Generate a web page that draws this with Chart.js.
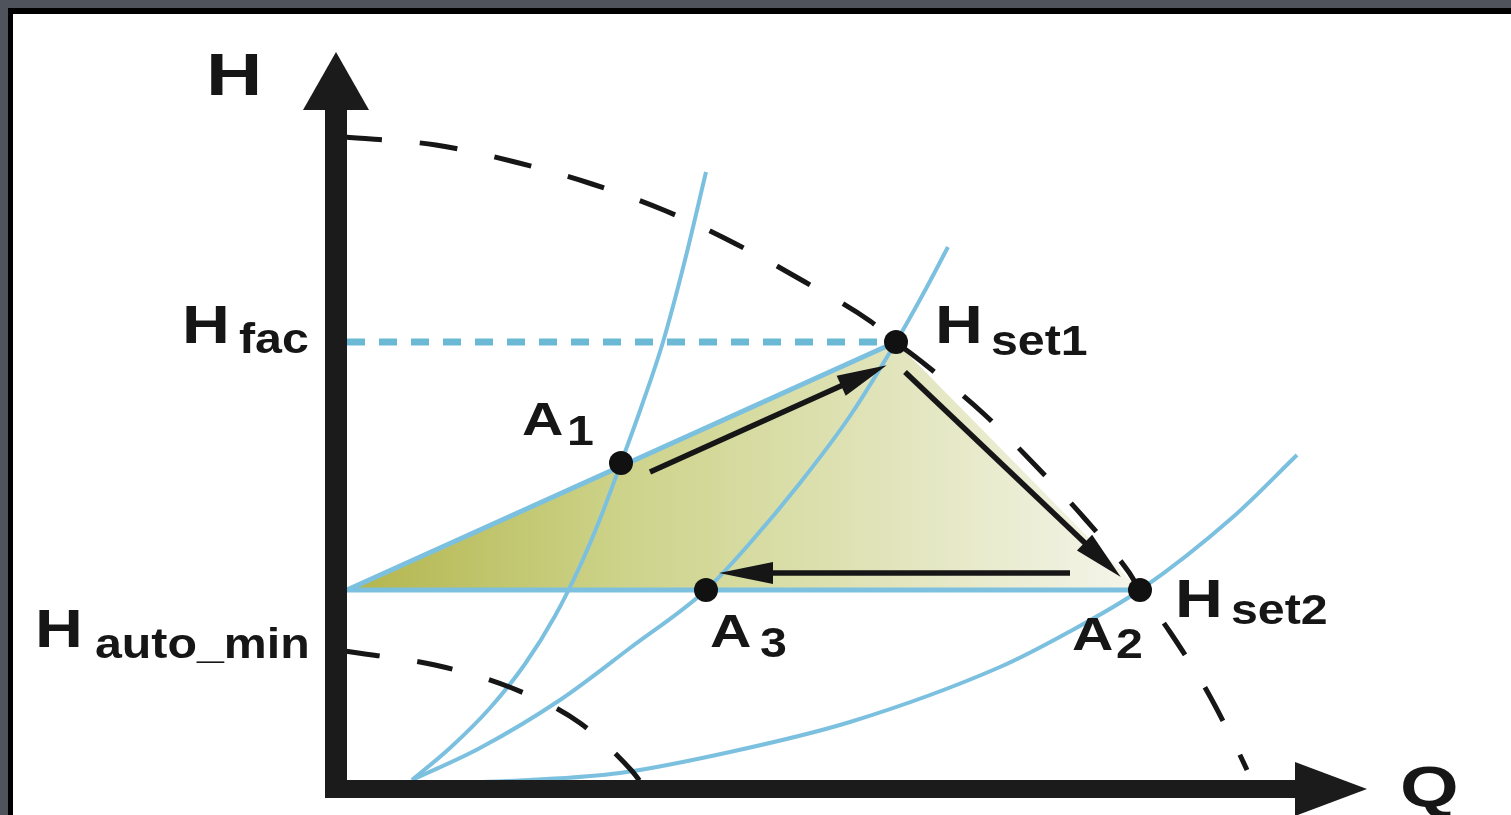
<!DOCTYPE html>
<html>
<head>
<meta charset="utf-8">
<script src="https://cdn.jsdelivr.net/npm/chart.js@4"></script>
<style>
  body { margin: 0; background: #4e535c; }
  #frame { position: absolute; left: 8px; top: 8px; width: 1503px; height: 807px; background: #fff;
           border-top: 6px solid #000; border-left: 5px solid #000; box-sizing: border-box; }
  #wrap { position: absolute; left: 0; top: 0; width: 1511px; height: 815px; }
</style>
</head>
<body>
<div id="frame"></div>
<div id="wrap"><canvas id="chart"></canvas></div>
<script>
// pump curve at full speed (dashed, top)
const pumpMaxQ = [0.08, 1.00, 1.79, 2.56, 3.30, 4.00, 4.69, 5.34, 5.60, 5.91, 6.49, 6.99, 7.50, 7.92, 8.04, 8.34, 8.71, 9.03, 9.11];
const pumpMaxH = [6.52, 6.44, 6.27, 6.05, 5.78, 5.45, 5.07, 4.68, 4.47, 4.23, 3.74, 3.24, 2.69, 2.18, 1.99, 1.57, 0.98, 0.36, 0.19];
// pump curve at minimum speed (dashed, bottom)
const pumpMinQ = [0.08, 0.99, 1.76, 2.44, 2.96, 3.06];
const pumpMinH = [1.38, 1.24, 1.01, 0.66, 0.18, 0.05];
// system curves (light blue)
const sysAQ = [0.76, 1.14, 1.54, 1.89, 2.19, 2.44, 2.64, 2.85, 3.06, 3.27, 3.49, 3.70];
const sysAH = [0.09, 0.41, 0.81, 1.25, 1.73, 2.23, 2.70, 3.26, 3.84, 4.47, 5.29, 6.17];
const sysBQ = [0.76, 1.44, 2.24, 2.94, 3.70, 4.14, 4.64, 5.14, 5.60, 5.86, 6.12];
const sysBH = [0.09, 0.41, 0.89, 1.41, 1.99, 2.46, 3.06, 3.73, 4.47, 4.93, 5.42];
const sysCQ = [0.79, 1.94, 2.84, 3.94, 5.14, 6.64, 7.31, 8.04, 8.97, 9.61];
const sysCH = [0.05, 0.09, 0.16, 0.37, 0.67, 1.22, 1.56, 1.99, 2.72, 3.34];
// levels
const hFac = 4.47;
const hAutoMin = 1.99;
// control band (triangle)
const bandQ = [0.11, 5.60, 8.04];
const bandH = [hAutoMin, hFac, hAutoMin];
// operating points A1, Hset1, A3, Hset2/A2
const opQ = [2.85, 5.60, 3.70, 8.04];
const opH = [3.26, hFac, hAutoMin, hAutoMin];
// arrows between the points (start, end of shaft)
const arrow1Q = [3.14, 5.07], arrow1H = [3.17, 4.04];
const arrow2Q = [5.69, 7.50], arrow2H = [4.17, 2.45];
const arrow3Q = [7.34, 4.35], arrow3H = [2.16, 2.16];
// axes
const axisYQ = [0, 0], axisYH = [-0.09, 6.81];
const axisXQ = [-0.11, 9.61], axisXH = [0, 0];

const pts = (qs, hs) => qs.map((q, i) => ({ x: q, y: hs[i] }));

// text labels: main letter + subscript, anchored in Q/H units (left, baseline)
const labels = [
  { main: 'H', at: [-1.30, 6.94], size: 60, sx: 1.3 },
  { main: 'Q', at: [10.64, -0.18], size: 58, sx: 1.3 },
  { main: 'H', at: [-1.54, 4.46], sub: 'fac', subAt: [-0.97, 4.36] },
  { main: 'H', at: [5.99, 4.46], sub: 'set1', subAt: [6.55, 4.34] },
  { main: 'H', at: [8.39, 1.72], sub: 'set2', subAt: [8.95, 1.65] },
  { main: 'H', at: [-3.01, 1.42], sub: 'auto_min', subAt: [-2.41, 1.31] },
  { main: 'A', at: [1.86, 3.54], sub: '1', subAt: [2.31, 3.44], size: 47, sx: 1.22 },
  { main: 'A', at: [3.74, 1.42], sub: '3', subAt: [4.24, 1.32], size: 47, sx: 1.22 },
  { main: 'A', at: [7.36, 1.39], sub: '2', subAt: [7.80, 1.31], size: 47, sx: 1.22 }
];

const BLUE = '#7cc0e0';
const INK = '#161616';

const decor = {
  id: 'decor',
  afterDatasetsDraw(chart) {
    const c = chart.ctx;
    const xs = chart.scales.x, ys = chart.scales.y;
    chart.data.datasets.forEach((ds, i) => {
      if (!ds.arrowHead) return;
      const el = chart.getDatasetMeta(i).data;
      const a = el[el.length - 2], b = el[el.length - 1];
      const dx = b.x - a.x, dy = b.y - a.y, L = Math.hypot(dx, dy);
      const ux = dx / L, uy = dy / L;
      const { len, half } = ds.arrowHead;
      const bx = b.x - ux * 2, by = b.y - uy * 2;
      c.save();
      c.beginPath();
      c.moveTo(b.x + ux * len, b.y + uy * len);
      c.lineTo(bx - uy * half, by + ux * half);
      c.lineTo(bx + uy * half, by - ux * half);
      c.closePath();
      c.fillStyle = ds.borderColor;
      c.fill();
      c.restore();
    });
    const put = (txt, q, h, size, sx) => {
      c.save();
      c.translate(xs.getPixelForValue(q), ys.getPixelForValue(h));
      c.scale(sx, 1);
      c.font = 'bold ' + size + 'px "Liberation Sans", Arial, sans-serif';
      c.fillStyle = INK;
      c.textBaseline = 'alphabetic';
      c.fillText(txt, 0, 0);
      c.restore();
    };
    labels.forEach(l => {
      put(l.main, l.at[0], l.at[1], l.size || 53, l.sx || 1.25);
      if (l.sub) put(l.sub, l.subAt[0], l.subAt[1], 42, 1.15);
    });
  }
};

const curve = (qs, hs, color, width, dash, order) => ({
  data: pts(qs, hs), borderColor: color, borderWidth: width, borderDash: dash || [],
  cubicInterpolationMode: 'monotone', pointRadius: 0, fill: false, order
});
const straight = (qs, hs, color, width, dash, order) => ({
  data: pts(qs, hs), borderColor: color, borderWidth: width, borderDash: dash || [],
  tension: 0, pointRadius: 0, fill: false, borderCapStyle: 'butt', order
});

new Chart(document.getElementById('chart'), {
  type: 'line',
  data: {
    datasets: [
      {
        data: pts(bandQ, bandH), borderWidth: 0, pointRadius: 0, tension: 0, order: 9,
        fill: { value: hAutoMin },
        backgroundColor: (ctx) => {
          const ch = ctx.chart;
          if (!ch.chartArea) return '#d5d896';
          const x0 = ch.scales.x.getPixelForValue(bandQ[0]);
          const x1 = ch.scales.x.getPixelForValue(bandQ[2]);
          const g = ch.ctx.createLinearGradient(x0, 0, x1, 0);
          g.addColorStop(0, '#b3b54c');
          g.addColorStop(0.35, '#cdd38a');
          g.addColorStop(0.7, '#e2e5bd');
          g.addColorStop(1, '#f5f5eb');
          return g;
        }
      },
      straight([bandQ[2], bandQ[0], bandQ[1]], [bandH[2], bandH[0], bandH[1]], BLUE, 5, null, 8),
      straight([0.11, 5.60], [hFac, hFac], '#6cb9d6', 7, [18, 14], 8),
      curve(sysAQ, sysAH, BLUE, 4, null, 7),
      curve(sysBQ, sysBH, BLUE, 4, null, 7),
      curve(sysCQ, sysCH, BLUE, 4, null, 7),
      curve(pumpMaxQ, pumpMaxH, INK, 5, [38, 38], 6),
      curve(pumpMinQ, pumpMinH, INK, 5, [36, 38], 6),
      Object.assign(straight(arrow1Q, arrow1H, INK, 5.5, null, 5), { arrowHead: { len: 48, half: 11 } }),
      Object.assign(straight(arrow2Q, arrow2H, INK, 5.5, null, 5), { arrowHead: { len: 48, half: 11 } }),
      Object.assign(straight(arrow3Q, arrow3H, INK, 5.5, null, 5), { arrowHead: { len: 52, half: 11 } }),
      Object.assign(straight(axisYQ, axisYH, '#1b1b1b', 22, null, 2), { arrowHead: { len: 56, half: 33 } }),
      Object.assign(straight(axisXQ, axisXH, '#1b1b1b', 18, null, 2), { arrowHead: { len: 70, half: 27 } }),
      {
        data: pts(opQ, opH), showLine: false, pointRadius: 12, pointHoverRadius: 12,
        pointBackgroundColor: '#111', pointBorderWidth: 0, order: 0
      }
    ]
  },
  options: {
    responsive: true,
    maintainAspectRatio: false,
    animation: false,
    events: [],
    layout: { padding: 0, autoPadding: false },
    plugins: { legend: { display: false }, tooltip: { enabled: false } },
    scales: {
      x: { type: 'linear', min: -3.36, max: 11.75, display: false },
      y: { type: 'linear', min: -0.26, max: 7.89, display: false }
    }
  },
  plugins: [decor]
});
</script>
</body>
</html>
